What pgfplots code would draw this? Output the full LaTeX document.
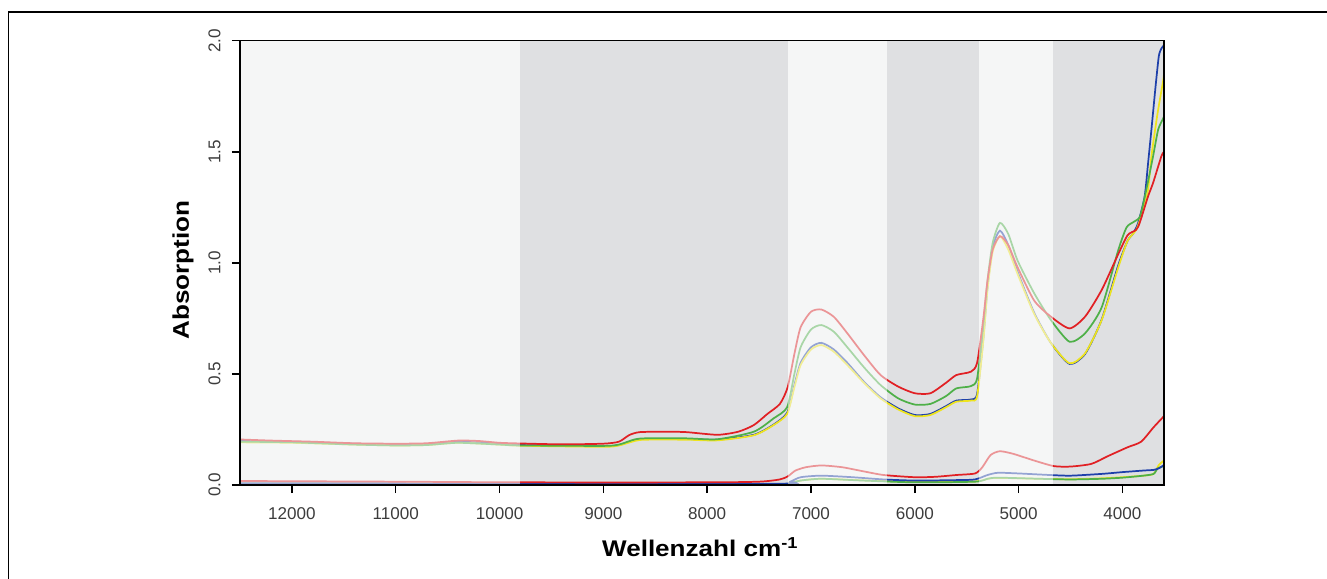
\documentclass[border=0pt]{standalone}
\usepackage{fontspec}
\setmainfont{Liberation Sans}
\usepackage{pgfplots}
\pgfplotsset{compat=1.18}
\definecolor{bgl}{HTML}{F5F6F6}
\definecolor{bgd}{HTML}{DFE0E2}
\definecolor{cred}{RGB}{225,32,36}
\definecolor{cgreen}{RGB}{78,176,72}
\definecolor{cyellow}{RGB}{238,228,30}
\definecolor{cblue}{RGB}{30,64,170}
\definecolor{tickgray}{RGB}{60,60,60}
\begin{document}
\begin{tikzpicture}
\useasboundingbox (0,0) rectangle (995.25pt,433.5pt);
\draw[line width=1.2pt] (6.5pt,-5pt) -- (6.5pt,424.5pt) -- (1000pt,424.5pt);
\begin{axis}[
  at={(180pt,69.75pt)}, anchor=south west,
  scale only axis, width=693pt, height=333.2pt,
  x dir=reverse, xmin=3600, xmax=12500, ymin=0, ymax=2,
  xtick={4000,5000,...,12000}, ytick={0,0.5,...,2},
  scaled x ticks=false,
  axis on top, axis line style={line width=1.1pt},
  tick align=outside, major tick length=6pt,
  tick style={line width=1.1pt, black},
  xtick pos=bottom, ytick pos=left,
  /pgf/number format/assume math mode=true,
  x tick label style={/pgf/number format/.cd, fixed, set thousands separator={}, /tikz/.cd, font=\fontsize{12.8}{15}\selectfont, text=tickgray},
  y tick label style={/pgf/number format/.cd, fixed, fixed zerofill, precision=1, /tikz/.cd, rotate=90, anchor=south, font=\fontsize{12.8}{15}\selectfont, text=tickgray},
  yticklabel shift=5pt,
  xticklabel shift=7.5pt,
  xlabel={\addfontfeature{FakeStretch=1.15}Wellenzahl cm\textsuperscript{-1}},
  ylabel={\addfontfeature{FakeStretch=1.15}Absorption},
  xlabel style={at={(axis description cs:0.498,-0.162)}, anchor=base, font=\fontsize{17}{20}\selectfont\bfseries},
  ylabel style={at={(axis description cs:-0.0552,0.484)}, anchor=base, font=\fontsize{17}{20}\selectfont\bfseries},
  every axis plot/.append style={line width=1.3pt, smooth, tension=0.4},
]
% background bands
\fill[bgl] (axis cs:12500,0) rectangle (axis cs:9800,2);
\fill[bgd] (axis cs:9800,0) rectangle (axis cs:7220,2);
\fill[bgl] (axis cs:7220,0) rectangle (axis cs:6270,2);
\fill[bgd] (axis cs:6270,0) rectangle (axis cs:5385,2);
\fill[bgl] (axis cs:5385,0) rectangle (axis cs:4665,2);
\fill[bgd] (axis cs:4665,0) rectangle (axis cs:3600,2);

% lower group
\addplot[cyellow] coordinates {(12500,0.007) (10000,0.006) (7300,0.004) (7200,0.009) (7100,0.02) (6900,0.028) (6500,0.021) (6000,0.014) (5420,0.016) (5300,0.028) (5200,0.032) (4800,0.028) (4500,0.026) (4200,0.03) (4000,0.035) (3800,0.042) (3700,0.05) (3650,0.09) (3600,0.11)};
\addplot[cgreen] coordinates {(12500,0.005) (10000,0.004) (7300,0.003) (7200,0.008) (7100,0.02) (6900,0.028) (6500,0.02) (6000,0.012) (5420,0.015) (5300,0.028) (5200,0.033) (4800,0.028) (4500,0.025) (4200,0.028) (4000,0.033) (3800,0.042) (3700,0.05) (3660,0.075) (3600,0.085)};
\addplot[cblue] coordinates {(12500,0.008) (10000,0.007) (7300,0.006) (7200,0.015) (7100,0.035) (6900,0.042) (6600,0.035) (6300,0.025) (6000,0.02) (5600,0.022) (5420,0.025) (5300,0.045) (5200,0.055) (5000,0.052) (4700,0.045) (4500,0.042) (4200,0.05) (4000,0.058) (3800,0.065) (3700,0.068) (3650,0.075) (3600,0.09)};
\addplot[cred] coordinates {(12500,0.018) (11000,0.015) (9800,0.012) (8000,0.012) (7500,0.015) (7300,0.025) (7220,0.04) (7150,0.065) (7050,0.08) (6900,0.088) (6700,0.08) (6500,0.062) (6300,0.045) (6000,0.035) (5800,0.037) (5600,0.045) (5420,0.052) (5350,0.08) (5270,0.135) (5180,0.152) (5050,0.14) (4850,0.11) (4660,0.085) (4500,0.083) (4300,0.095) (4140,0.13) (3950,0.17) (3820,0.195) (3700,0.26) (3600,0.31)};

% upper group
\addplot[cblue] coordinates {(12500,0.198) (12000,0.195) (11400,0.186) (11000,0.182) (10700,0.184) (10400,0.195) (10000,0.186) (9800,0.180) (9000,0.175) (8850,0.180) (8700,0.202) (8600,0.207) (8200,0.207) (7900,0.204) (7550,0.226) (7360,0.272) (7230,0.325) (7160,0.45) (7100,0.55) (7000,0.62) (6900,0.64) (6780,0.61) (6650,0.55) (6490,0.465) (6330,0.395) (6160,0.345) (6000,0.315) (5850,0.32) (5700,0.355) (5600,0.38) (5460,0.385) (5400,0.41) (5340,0.66) (5300,0.89) (5250,1.07) (5180,1.145) (5100,1.08) (5010,0.96) (4850,0.775) (4690,0.64) (4510,0.545) (4360,0.59) (4200,0.745) (4040,0.99) (3950,1.10) (3900,1.13) (3849,1.18) (3786,1.30) (3753,1.45) (3721,1.60) (3682,1.79) (3650,1.93) (3625,1.965) (3600,1.98)};
\addplot[cyellow] coordinates {(12500,0.192) (12000,0.19) (11400,0.182) (11000,0.178) (10700,0.18) (10400,0.19) (10000,0.182) (9800,0.177) (9000,0.172) (8850,0.178) (8700,0.198) (8600,0.204) (8200,0.204) (7900,0.201) (7550,0.224) (7360,0.27) (7230,0.32) (7160,0.44) (7100,0.54) (7000,0.61) (6900,0.63) (6780,0.60) (6650,0.54) (6490,0.46) (6330,0.39) (6160,0.34) (6000,0.31) (5850,0.315) (5700,0.35) (5600,0.375) (5460,0.38) (5400,0.40) (5340,0.65) (5300,0.88) (5250,1.05) (5180,1.12) (5100,1.06) (5010,0.95) (4850,0.77) (4690,0.64) (4510,0.548) (4360,0.593) (4200,0.743) (4040,0.98) (3950,1.10) (3866,1.15) (3800,1.24) (3753,1.33) (3721,1.48) (3663,1.67) (3608,1.82) (3600,1.85)};
\addplot[cgreen] coordinates {(12500,0.195) (12000,0.192) (11400,0.182) (11000,0.178) (10700,0.18) (10400,0.19) (10000,0.182) (9800,0.178) (9000,0.176) (8850,0.182) (8700,0.205) (8600,0.21) (8200,0.21) (7900,0.206) (7550,0.24) (7360,0.30) (7230,0.35) (7160,0.50) (7100,0.62) (7000,0.70) (6900,0.72) (6780,0.69) (6650,0.62) (6490,0.53) (6330,0.45) (6160,0.39) (6000,0.362) (5850,0.365) (5700,0.40) (5600,0.435) (5460,0.445) (5400,0.48) (5340,0.72) (5300,0.92) (5250,1.09) (5180,1.18) (5100,1.13) (5010,1.01) (4850,0.863) (4690,0.743) (4510,0.645) (4360,0.683) (4200,0.80) (4040,1.058) (3960,1.16) (3890,1.185) (3830,1.21) (3770,1.33) (3705,1.48) (3656,1.60) (3608,1.65) (3600,1.66)};
\addplot[cred] coordinates {(12500,0.205) (12200,0.2) (11800,0.195) (11400,0.188) (11000,0.186) (10700,0.188) (10400,0.2) (10200,0.198) (10000,0.19) (9800,0.187) (9400,0.183) (9000,0.186) (8850,0.195) (8750,0.225) (8650,0.238) (8400,0.24) (8200,0.238) (7900,0.226) (7700,0.24) (7550,0.27) (7420,0.32) (7300,0.365) (7225,0.44) (7160,0.59) (7100,0.71) (7000,0.78) (6900,0.79) (6780,0.757) (6650,0.683) (6490,0.585) (6330,0.495) (6160,0.443) (6000,0.413) (5850,0.413) (5700,0.46) (5600,0.495) (5460,0.51) (5400,0.55) (5340,0.75) (5300,0.92) (5250,1.06) (5180,1.12) (5100,1.08) (5010,0.98) (4850,0.83) (4690,0.758) (4510,0.705) (4360,0.758) (4200,0.878) (4040,1.04) (3950,1.125) (3870,1.148) (3834,1.18) (3753,1.30) (3705,1.36) (3625,1.48) (3600,1.50)};

% fading overlay on light bands
\fill[bgl, opacity=0.55] (axis cs:12500,0) rectangle (axis cs:9800,2);
\fill[bgl, opacity=0.55] (axis cs:7220,0) rectangle (axis cs:6270,2);
\fill[bgl, opacity=0.55] (axis cs:5385,0) rectangle (axis cs:4665,2);
\end{axis}
\end{tikzpicture}
\end{document}
